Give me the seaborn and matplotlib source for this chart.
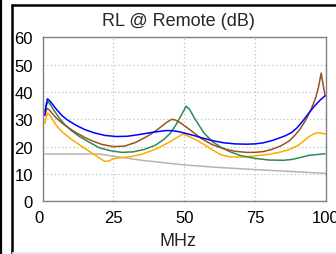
import matplotlib
matplotlib.use("Agg")
import matplotlib.pyplot as plt
import matplotlib.transforms as mtransforms
import seaborn as sns
import pandas as pd
from matplotlib.lines import Line2D

# ---- data ----
blue_x = [0.8, 1.2, 1.7, 2.5, 3.5, 5, 7, 9, 12, 15, 18, 22, 26, 30, 34, 38, 42, 44, 46, 48, 50, 53, 56, 60, 64, 68, 72, 75, 78, 81, 84, 86, 88, 90, 92, 94, 96, 98, 99.8]
blue_y = [31.5, 35, 37.5, 36.8, 35.5, 33.5, 31.2, 29.6, 27.7, 26.2, 25.1, 24.1, 23.7, 23.8, 24.4, 25.1, 25.7, 25.9, 25.8, 25.5, 25.0, 24.2, 23.3, 22.2, 21.4, 21.0, 20.9, 21.0, 21.4, 22.2, 23.3, 24.1, 25.2, 27.0, 29.5, 32.2, 34.8, 37.0, 38.6]

brown_x = [0.8, 1.2, 1.6, 2.5, 3.5, 5, 7, 9, 12, 15, 18, 21, 25, 29, 33, 37, 40, 42, 44, 45.6, 47, 49, 52, 56, 60, 64, 68, 72, 75, 78, 81, 84, 87, 89, 91, 93, 95, 96.5, 97.5, 98.4, 99.2, 99.8]
brown_y = [31.5, 33, 34, 33.3, 32, 30.3, 28.5, 27, 25, 23.3, 21.9, 20.8, 20.0, 20.2, 21.6, 23.8, 25.8, 27.4, 29, 30, 29.7, 28.5, 26.2, 23, 20.7, 19.2, 18.3, 17.9, 17.9, 18.2, 19.0, 20.2, 22.0, 24.0, 26.5, 29.8, 34, 38, 42, 46.9, 42, 38.6]

green_x = [0.8, 1.3, 2, 3, 4, 6, 8, 10, 13, 16, 20, 24, 28, 32, 36, 40, 43, 45, 47, 49, 50.7, 52, 53.5, 55, 57, 60, 63, 66, 70, 75, 80, 85, 88, 91, 94, 97, 99.8]
green_y = [33, 35, 36.5, 35, 33.3, 30.3, 27.9, 26, 23.7, 21.9, 19.6, 18.5, 17.9, 18.1, 19.0, 20.6, 22.8, 24.8, 27.8, 31.5, 34.8, 33.5, 30.7, 28.2, 25, 21.8, 19.8, 18.2, 16.7, 15.7, 15.1, 15.0, 15.3, 16.0, 16.8, 17.1, 17.4]

orange_x = [0.8, 1.2, 1.7, 2.5, 3.5, 5, 7, 10, 13, 16, 19, 21, 22, 23.5, 25, 28, 31, 35, 40, 45, 49.5, 52, 54.5, 57, 60, 63, 66, 70, 75, 80, 84, 87, 90, 92, 94, 96, 97.5, 99, 99.8]
orange_y = [28.5, 30.5, 32.3, 31.5, 30, 27.5, 25.3, 22.8, 20.7, 18.6, 16.6, 15.2, 14.6, 14.8, 15.6, 16.0, 16.3, 17.2, 19.1, 21.8, 24.6, 23.6, 22.3, 20.8, 18.8, 17.0, 16.3, 16.2, 16.6, 17.2, 18.0, 18.9, 20.3, 21.9, 23.6, 24.8, 25.1, 24.8, 24.6]

gray_x = [0.8, 20, 25, 35, 50, 62, 75, 88, 100]
gray_y = [17.3, 17.3, 16.5, 15, 13.3, 12.4, 11.6, 10.9, 10.2]

x_ticks = [0, 25, 50, 75, 100]
y_ticks = [0, 10, 20, 30, 40, 50, 60]
title = "RL @ Remote (dB)"
xlabel = "MHz"

series = [
    ("limit", gray_x, gray_y),
    ("orange", orange_x, orange_y),
    ("green", green_x, green_y),
    ("brown", brown_x, brown_y),
    ("blue", blue_x, blue_y),
]
rows = []
for name, xs, ys in series:
    for xv, yv in zip(xs, ys):
        rows.append({"series": name, "MHz": xv, "dB": yv})
df = pd.DataFrame(rows)
palette = {"limit": "#b4b4b4", "orange": "#ffaa00", "green": "#2e8b57",
           "brown": "#9a5220", "blue": "#0000ff"}

sns.set_style("white")
plt.rcParams['font.family'] = ['Liberation Sans', 'DejaVu Sans']

fig = plt.figure(figsize=(3.36, 2.55), dpi=100)
ax = fig.add_axes([42.6/336, 1 - 202.3/255, (325.7-42.6)/336, (202.3-38.3)/255])

sns.lineplot(data=df, x="MHz", y="dB", hue="series", palette=palette,
             hue_order=[s[0] for s in series], sort=False, estimator=None,
             linewidth=1.1, legend=False, ax=ax)

ax.set_xlim(0, 100)
ax.set_ylim(0, 60)
ax.set_xticks(x_ticks)
ax.set_yticks(y_ticks)
ax.set_xticklabels([str(t) for t in x_ticks], fontsize=12)
ax.set_yticklabels([str(t) for t in y_ticks], fontsize=12)
ax.tick_params(axis='x', length=0, pad=6, colors='black')
ax.tick_params(axis='y', length=0, pad=7, colors='black')
# the "0" on the x axis sits a little left of its grid position in the reference
lbl0 = ax.get_xticklabels()[0]
lbl0.set_transform(lbl0.get_transform() + mtransforms.ScaledTranslation(-4/100, 0, fig.dpi_scale_trans))
ax.set_xlabel("")
ax.set_ylabel("")
ax.grid(True, color='#c0c0c0', linestyle=(0, (1, 2)), linewidth=0.9)
for sp in ax.spines.values():
    sp.set_color('#808080')
    sp.set_linewidth(1.0)

fig.text(178/336, 1 - 21.5/255, title, ha='center', va='center', fontsize=13)
fig.text(178/336, 1 - 241.5/255, xlabel, ha='center', va='center', fontsize=13)

# panel borders
fig.add_artist(Line2D([1/336, 1/336], [0, 1], color='black', lw=1.6, transform=fig.transFigure))
fig.add_artist(Line2D([12/336, 12/336], [0, 1 - 6/255], color='black', lw=1.8, transform=fig.transFigure))
fig.add_artist(Line2D([12/336, 1], [1 - 6/255, 1 - 6/255], color='black', lw=1.8, transform=fig.transFigure))
fig.add_artist(Line2D([13/336, 1], [1 - 253.5/255, 1 - 253.5/255], color='#e6e6e6', lw=1.5, transform=fig.transFigure))

fig.savefig("out.png", dpi=100)
